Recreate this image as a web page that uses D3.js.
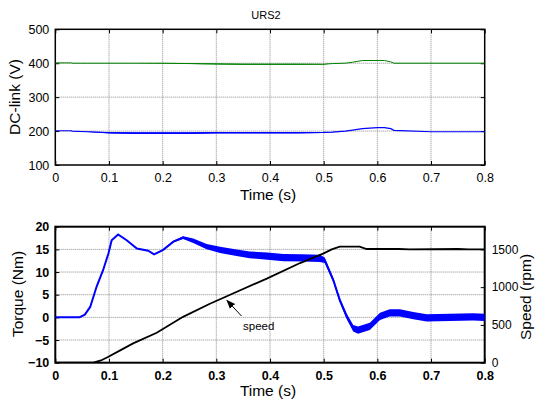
<!DOCTYPE html>
<html><head><meta charset="utf-8">
<script src="https://cdn.jsdelivr.net/npm/d3@7"></script>
<style>body{margin:0;background:#fff}svg{display:block}text{font-family:"Liberation Sans",Arial,sans-serif}</style>
</head><body><svg id="c" width="536" height="403"></svg>
<script>
// ---------- data ----------
const timeTicks = [0,0.1,0.2,0.3,0.4,0.5,0.6,0.7,0.8];
const dcTicks = [100,200,300,400,500];
const torqueTicks = [-10,-5,0,5,10,15,20];
const speedTicks = [0,500,1000,1500];

// top: DC-link voltages
const dcTime  = [0,0.03,0.031,0.06,0.1,0.15,0.2,0.25,0.3,0.35,0.4,0.45,0.5,0.516,0.54,0.554,0.572,0.6,0.613,0.625,0.631,0.7,0.8];
const dcHigh  = [401,401,400,400,400,400,400,399,398,397,397,397,397,399,400,403,408,408,408,404,400,400,400];
const dcHighRip=[0,0,0,0,0,0,0.5,1,1.5,1.5,1.5,1.5,1,0,0,0,0,0,0,0,0,0,0];
const dcLow   = [201,201,200,198,195,194,194,194,195,195,195,195,196,197,200,203,207,210,210,207,202,198,198];
const dcLowRip= [0,0,0,1,2,2.5,2.5,2.5,2.5,2,2,2,1.5,0.5,0,0,0,0,0,0,0,0,0];

// bottom: torque (Nm) and speed (rpm)
const tqTime = [0,0.045,0.055,0.065,0.077,0.089,0.099,0.105,0.117,0.133,0.152,0.173,0.184,0.201,0.22,0.238,0.257,0.282,0.307,0.335,0.362,0.395,0.425,0.46,0.493,0.502,0.518,0.53,0.543,0.555,0.564,0.586,0.605,0.623,0.642,0.667,0.692,0.735,0.778,0.8];
const torque = [0,0,0.6,2.3,6.8,10.4,14.1,17,18.3,17,15.2,14.7,13.9,14.9,16.7,17.6,16.9,15.6,14.9,14.3,13.8,13.5,13.2,13.1,13.0,12.6,8.2,3.8,0.2,-2.4,-2.8,-2.0,0.2,1.0,1.0,0.4,-0.1,0,0.1,0];
const tqRip  = [0,0,0,0,0,0,0,0,0,0,0,0,0,0.1,0.2,0.3,0.5,0.6,0.7,0.7,0.75,0.8,0.8,0.8,0.8,0.6,0.5,0.5,0.6,0.7,0.8,0.8,0.8,0.8,0.8,0.8,0.8,0.8,0.8,0.8];
const spTime = [0,0.071,0.085,0.099,0.12,0.145,0.189,0.238,0.288,0.331,0.394,0.456,0.499,0.515,0.53,0.567,0.58,0.64,0.66,0.75,0.77,0.8];
const speed  = [0,0,30,79,160,256,396,607,780,916,1113,1319,1443,1500,1535,1535,1505,1505,1500,1505,1500,1500];

// ---------- drawing ----------
const svg = d3.select("#c");
const FONT = '"Liberation Sans",Arial,sans-serif';
const X0 = 55.3, X1 = 484.7;
const x = d3.scaleLinear().domain([0,0.8]).range([X0,X1]);
const yTop = d3.scaleLinear().domain([100,500]).range([165,29.3]);
const yBot = d3.scaleLinear().domain([-10,20]).range([362.7,226.7]);
const ySp  = d3.scaleLinear().domain([0,1800]).range([362.7,226.7]);

function frame(y, yTicks, bold, frameW, rightTicks){
  const [b,t] = y.range();
  const g = svg.append("g");
  g.selectAll(".vg").data(timeTicks.slice(1,-1)).join("line")
    .attr("x1",d=>x(d)).attr("x2",d=>x(d)).attr("y1",t).attr("y2",b)
    .attr("stroke","#808080").attr("stroke-width",0.9).attr("stroke-dasharray","1,1");
  g.selectAll(".hg").data(yTicks.slice(1,-1)).join("line")
    .attr("x1",X0).attr("x2",X1).attr("y1",d=>y(d)).attr("y2",d=>y(d))
    .attr("stroke","#808080").attr("stroke-width",0.9).attr("stroke-dasharray","1,1");
  const fw = bold ? "bold" : "normal";
  const ax = g.append("g").attr("transform",`translate(0,${b})`)
    .call(d3.axisBottom(x).tickValues(timeTicks).tickSize(-4).tickPadding(8).tickFormat(d3.format("")));
  const axT = g.append("g").attr("transform",`translate(0,${t})`)
    .call(d3.axisTop(x).tickValues(timeTicks).tickSize(-4).tickFormat(""));
  const ay = g.append("g").attr("transform",`translate(${X0},0)`)
    .call(d3.axisLeft(y).tickValues(yTicks).tickSize(-4).tickPadding(6));
  const allAx = [ax,axT,ay];
  if(rightTicks){
    const ar = g.append("g").attr("transform",`translate(${X1},0)`)
      .call(d3.axisRight(y).tickValues(yTicks).tickSize(-4).tickFormat(""));
    allAx.push(ar);
  }
  allAx.forEach(a=>{a.select(".domain").remove(); a.selectAll("line").attr("stroke","#000");});
  [ax,ay].forEach(a=>a.selectAll("text").attr("font-size",12.5).attr("font-weight",fw).attr("fill","#000")
     .attr("font-family",FONT));
  g.append("rect").attr("x",X0).attr("y",t).attr("width",X1-X0).attr("height",b-t)
    .attr("fill","none").attr("stroke","#000").attr("stroke-width",frameW);
  return g;
}

const defs = svg.append("defs");
defs.append("clipPath").attr("id","cT").append("rect").attr("x",X0).attr("y",29.3).attr("width",X1-X0).attr("height",165-29.3);
defs.append("clipPath").attr("id","cB").append("rect").attr("x",X0).attr("y",226.7).attr("width",X1-X0).attr("height",362.7-226.7);

frame(yTop, dcTicks, false, 1.5, true);
frame(yBot, torqueTicks, true, 2, false);

function band(ts, vs, rs, y, color, lw, clip){
  const pts = ts.map((t,i)=>({t, v:vs[i], r:rs[i]}));
  const g = svg.append("g").attr("clip-path",`url(#${clip})`);
  g.append("path").datum(pts)
    .attr("d", d3.area().x(d=>x(d.t)).y0(d=>y(d.v-d.r)).y1(d=>y(d.v+d.r)))
    .attr("fill",color);
  g.append("path").datum(pts)
    .attr("d", d3.line().x(d=>x(d.t)).y(d=>y(d.v)))
    .attr("fill","none").attr("stroke",color).attr("stroke-width",lw);
}
band(dcTime, dcHigh, dcHighRip, yTop, "#008000", 1, "cT");
band(dcTime, dcLow, dcLowRip, yTop, "#0000ff", 1.2, "cT");

band(tqTime, torque, tqRip, yBot, "#0000ff", 2, "cB");
svg.append("g").attr("clip-path","url(#cB)").append("path")
  .datum(spTime.map((t,i)=>({t, v:speed[i]})))
  .attr("d", d3.line().x(d=>x(d.t)).y(d=>ySp(d.v)))
  .attr("fill","none").attr("stroke","#000").attr("stroke-width",1.8);

// right speed axis
const ar = svg.append("g").attr("transform",`translate(${X1},0)`)
  .call(d3.axisRight(ySp).tickValues(speedTicks).tickSize(-4).tickPadding(7).tickFormat(d3.format("d")));
ar.select(".domain").remove();
ar.selectAll("line").attr("stroke","#000");
ar.selectAll("text").attr("font-size",12).attr("fill","#000").attr("font-family",FONT);

const lab = (tx, ty, s, size, rot) => svg.append("text")
  .attr("transform",`translate(${tx},${ty})` + (rot?` rotate(${rot})`:""))
  .attr("text-anchor","middle").attr("font-size",size).attr("fill","#000").text(s);
lab(266, 19, "URS2", 11);
lab(268, 200, "Time (s)", 15.5);
lab(268, 396, "Time (s)", 15.5);
lab(20, 97, "DC-link (V)", 15.5, -90);
lab(23, 294, "Torque (Nm)", 15.5, -90);
lab(531, 297, "Speed (rpm)", 15.5, -90);

svg.append("defs").append("marker").attr("id","ah").attr("viewBox","0 0 10 10")
  .attr("refX",9).attr("refY",5).attr("markerWidth",9).attr("markerHeight",9).attr("orient","auto")
  .append("path").attr("d","M0,1 L10,5 L0,9 Z").attr("fill","#000");
svg.append("line").attr("x1",241.5).attr("y1",316).attr("x2",227).attr("y2",300.5)
  .attr("stroke","#000").attr("stroke-width",1).attr("marker-end","url(#ah)");
svg.append("text").attr("x",243).attr("y",330).attr("font-size",11.5).attr("fill","#000").text("speed");
</script></body></html>
